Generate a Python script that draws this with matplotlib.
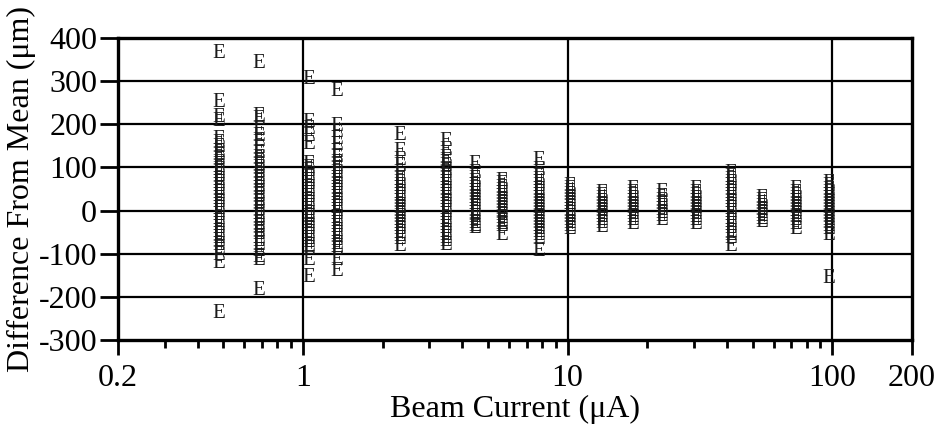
import numpy as np
import matplotlib
matplotlib.use("Agg")
import matplotlib.pyplot as plt
from matplotlib.ticker import FixedLocator, NullFormatter, FixedFormatter

# beam current of each run group (uA)
currents = [0.48, 0.68, 1.05, 1.34, 2.32, 3.46, 4.45, 5.62, 7.76, 10.2,
            13.5, 17.6, 22.6, 30.6, 41.5, 54.3, 73.0, 97.2]

# difference from mean (um) for each group
diffs = [
    [363, 250, 215, 207, 165, 155, 147, 135, 128, 118, 110, 100, 93, 85, 78, 70,
     62, 55, 47, 40, 33, 25, 18, 10, 3, -5, -12, -20, -28, -35, -42, -50, -58,
     -65, -72, -80, -90, -105, -122, -238],
    [342, 218, 210, 185, 172, 160, 145, 132, 120, 112, 105, 97, 88, 80, 72, 64,
     56, 48, 40, 32, 24, 16, 8, 0, -8, -16, -24, -32, -40, -48, -56, -64, -72,
     -80, -95, -108, -115, -185],
    [303, 203, 187, 171, 152, 106, 98, 90, 82, 75, 67, 60, 52, 45, 37, 30, 22,
     15, 7, 0, -8, -15, -23, -30, -38, -45, -53, -60, -68, -75, -83, -91, -115,
     -154],
    [277, 194, 180, 165, 150, 135, 122, 110, 102, 95, 87, 80, 72, 65, 57, 50, 42,
     35, 27, 20, 12, 5, -3, -10, -18, -25, -33, -40, -48, -55, -63, -70, -78,
     -85, -91, -115, -142],
    [173, 136, 117, 101, 78, 70, 62, 55, 48, 40, 33, 26, 18, 10, 4, -3, -10, -17,
     -24, -31, -38, -45, -52, -60, -68, -84],
    [159, 140, 120, 113, 101, 93, 85, 77, 70, 62, 55, 47, 40, 32, 25, 18, 10, 3,
     -5, -12, -20, -27, -35, -42, -50, -57, -65, -72, -80],
    [106, 87, 72, 64, 56, 48, 41, 34, 27, 20, 13, 6, -1, -8, -15, -22, -29, -36,
     -41],
    [67, 60, 52, 45, 38, 31, 24, 17, 10, 3, -4, -11, -18, -25, -32, -38, -57],
    [117, 94, 77, 70, 62, 55, 47, 40, 33, 26, 19, 12, 5, -2, -9, -16, -23, -30,
     -37, -44, -51, -58, -68, -96],
    [55, 48, 41, 34, 27, 20, 13, 6, -1, -8, -15, -22, -29, -36, -45],
    [40, 33, 26, 19, 12, 5, -2, -9, -16, -23, -30, -40],
    [48, 40, 33, 26, 19, 12, 5, -2, -9, -16, -24, -33],
    [41, 30, 22, 15, 8, 1, -6, -13, -22],
    [48, 40, 33, 26, 19, 12, 5, -2, -9, -16, -24, -33],
    [85, 77, 70, 62, 55, 47, 40, 32, 25, 18, 10, 3, -5, -12, -20, -27, -35, -42,
     -50, -57, -65, -84],
    [29, 22, 15, 8, 1, -6, -13, -20, -27],
    [48, 40, 33, 26, 19, 12, 5, -2, -9, -16, -24, -33, -45],
    [63, 55, 47, 40, 33, 26, 19, 12, 5, -2, -9, -16, -24, -31, -38, -45, -57,
     -157],
]

x_ticks = [0.2, 1, 10, 100, 200]
x_ticklabels = ["0.2", "1", "10", "100", "200"]
y_ticks = [-300, -200, -100, 0, 100, 200, 300, 400]

plt.rcParams["font.family"] = ["Liberation Serif", "DejaVu Serif"]
plt.rcParams["axes.unicode_minus"] = False

fig = plt.figure(figsize=(9.4, 4.33), dpi=100)
ax = fig.add_axes([118 / 940, 93 / 433, 794 / 940, 302 / 433])

ax.set_xscale("log")
ax.set_xlim(0.2, 200)
ax.set_ylim(-300, 400)

for xv in [1, 10, 100]:
    ax.axvline(xv, color="black", lw=1.6, zorder=1)
for yv in y_ticks[1:-1]:
    ax.axhline(yv, color="black", lw=1.6, zorder=1)

for xc, vals in zip(currents, diffs):
    for v in vals:
        ax.text(xc, v, "E", ha="center", va="center", fontsize=15,
                color="#1a1a1a", zorder=3)

ax.xaxis.set_major_locator(FixedLocator(x_ticks))
ax.xaxis.set_major_formatter(FixedFormatter(x_ticklabels))
minor = [m * d for d in (0.1, 1, 10) for m in range(2, 10)]
minor = [m for m in minor if 0.2 < m < 200 and m not in x_ticks]
ax.xaxis.set_minor_locator(FixedLocator(minor))
ax.xaxis.set_minor_formatter(NullFormatter())
ax.set_yticks(y_ticks)

ax.tick_params(axis="x", which="major", direction="out", length=11, width=2,
               labelsize=23, pad=6)
ax.tick_params(axis="x", which="minor", direction="out", length=6, width=2)
ax.tick_params(axis="y", which="major", direction="out", length=13, width=2,
               labelsize=23, pad=2)

for s in ax.spines.values():
    s.set_linewidth(2.4)

ax.set_xlabel("Beam Current (\u03bcA)", fontsize=23, labelpad=2)
ax.set_ylabel("Difference From Mean (\u03bcm)", fontsize=23, labelpad=2)

fig.savefig("out.png", dpi=100)
